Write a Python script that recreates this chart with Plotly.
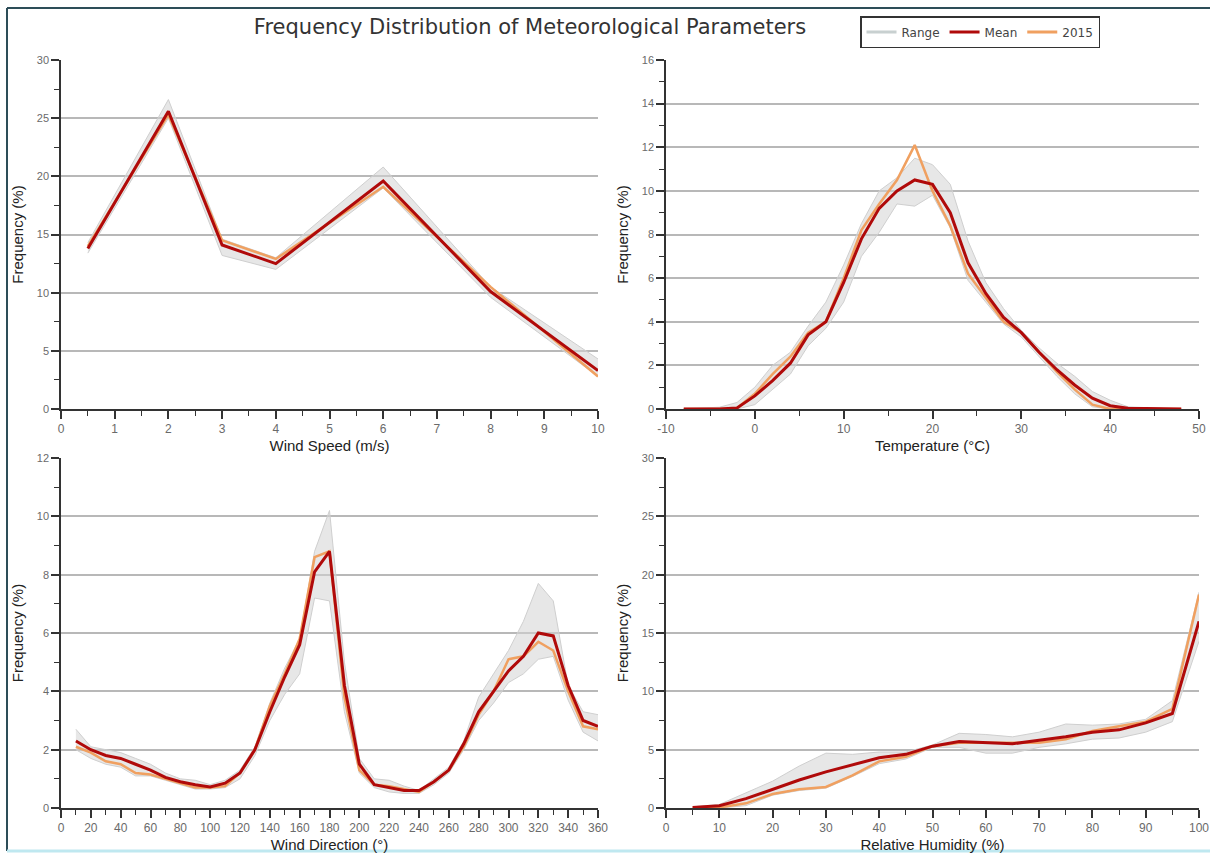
import plotly.graph_objects as go

# ---------------- data ----------------
ws_x = [0.5, 2, 3, 4, 6, 8, 10]
ws_mean = [13.8, 25.6, 14.1, 12.5, 19.6, 10.1, 3.3]
ws_2015 = [14.0, 25.3, 14.5, 12.9, 19.1, 10.5, 2.8]
ws_upper = [14.3, 26.6, 14.6, 13.0, 20.8, 10.5, 4.3]
ws_lower = [13.4, 25.0, 13.2, 12.0, 19.0, 9.6, 2.8]

t_x = [-8, -6, -4, -2, 0, 2, 4, 6, 8, 10, 12, 14, 16, 18, 20, 22, 24, 26, 28, 30,
       32, 34, 36, 38, 40, 42, 44, 46, 48]
t_mean = [0, 0, 0, 0.05, 0.6, 1.3, 2.1, 3.4, 4.0, 5.8, 7.8, 9.2, 10.0, 10.5, 10.3, 9.0,
          6.7, 5.3, 4.2, 3.5, 2.6, 1.8, 1.1, 0.5, 0.15, 0.03, 0.01, 0, 0]
t_2015 = [0, 0, 0, 0.05, 0.7, 1.6, 2.4, 3.5, 4.0, 6.0, 8.2, 9.4, 10.5, 12.1, 10.0, 8.4,
          6.2, 5.1, 4.0, 3.5, 2.6, 1.7, 0.9, 0.2, 0.0, 0, 0, 0, 0]
t_upper = [0.02, 0.05, 0.08, 0.3, 1.0, 2.0, 2.6, 3.8, 4.9, 6.6, 8.5, 10.0, 10.6, 11.5,
           11.2, 10.3, 7.7, 5.8, 4.6, 3.6, 2.8, 2.1, 1.5, 0.8, 0.4, 0.1, 0.05, 0.03, 0.01]
t_lower = [0, 0, 0, 0, 0.2, 0.9, 1.6, 2.9, 3.7, 4.9, 7.0, 8.1, 9.4, 9.3, 9.8, 8.3,
           5.9, 4.9, 3.9, 3.3, 2.4, 1.5, 0.7, 0.1, 0, 0, 0, 0, 0]
t_tickvals = [-10, 0, 10, 20, 30, 40, 50]
t_ticktext = ["-10", "0", "10", "20", "30", "40", "50"]

wd_x = [10, 20, 30, 40, 50, 60, 70, 80, 90, 100, 110, 120, 130, 140, 150, 160, 170, 180,
        190, 200, 210, 220, 230, 240, 250, 260, 270, 280, 290, 300, 310, 320, 330, 340,
        350, 360]
wd_mean = [2.3, 2.0, 1.8, 1.7, 1.5, 1.3, 1.05, 0.9, 0.8, 0.72, 0.85, 1.2, 2.0, 3.3, 4.5,
           5.6, 8.1, 8.8, 4.2, 1.5, 0.8, 0.7, 0.6, 0.6, 0.9, 1.3, 2.2, 3.3, 4.0, 4.7,
           5.2, 6.0, 5.9, 4.2, 3.0, 2.8]
wd_2015 = [2.1, 1.9, 1.6, 1.5, 1.2, 1.15, 1.0, 0.85, 0.7, 0.7, 0.75, 1.2, 2.0, 3.5, 4.6,
           5.8, 8.6, 8.8, 3.8, 1.3, 0.8, 0.75, 0.65, 0.55, 0.9, 1.3, 2.1, 3.2, 4.0, 5.1,
           5.2, 5.7, 5.4, 4.0, 2.8, 2.7]
wd_upper = [2.7, 2.1, 2.0, 1.9, 1.7, 1.5, 1.2, 1.0, 0.95, 0.8, 0.95, 1.3, 2.1, 3.6, 4.8,
            5.8, 8.8, 10.2, 5.0, 1.7, 1.0, 0.95, 0.75, 0.6, 1.0, 1.4, 2.3, 3.8, 4.6, 5.4,
            6.4, 7.7, 7.1, 4.2, 3.3, 3.2]
wd_lower = [2.0, 1.7, 1.5, 1.4, 1.1, 1.1, 0.95, 0.8, 0.65, 0.65, 0.7, 1.0, 1.8, 3.0, 3.9,
            4.6, 7.2, 7.1, 3.3, 1.2, 0.7, 0.55, 0.5, 0.5, 0.8, 1.2, 2.0, 3.0, 3.6, 4.3,
            4.6, 5.1, 5.2, 3.7, 2.6, 2.3]

rh_x = [5, 10, 15, 20, 25, 30, 35, 40, 45, 50, 55, 60, 65, 70, 75, 80, 85, 90, 95, 100]
rh_mean = [0.05, 0.2, 0.8, 1.6, 2.4, 3.1, 3.7, 4.3, 4.6, 5.3, 5.7, 5.6, 5.5, 5.8, 6.1,
           6.5, 6.7, 7.3, 8.1, 16.0]
rh_2015 = [0, 0.05, 0.4, 1.2, 1.6, 1.8, 2.8, 4.0, 4.4, 5.3, 5.6, 5.6, 5.6, 5.6, 5.9,
           6.6, 7.0, 7.4, 8.5, 18.3]
rh_upper = [0.1, 0.3, 1.3, 2.3, 3.6, 4.7, 4.6, 4.8, 4.8, 5.4, 6.4, 6.3, 6.1, 6.5, 7.2,
            7.1, 7.2, 7.6, 9.2, 18.5]
rh_lower = [0, 0, 0.2, 1.1, 1.5, 1.7, 2.7, 3.8, 4.2, 5.2, 5.2, 4.7, 4.7, 5.2, 5.5,
            5.9, 6.0, 6.5, 7.4, 14.3]

title_text = "Frequency Distribution of Meteorological Parameters"
ylabel = "Frequency (%)"
panels = [
    dict(x=ws_x, mean=ws_mean, y15=ws_2015, up=ws_upper, lo=ws_lower,
         xt="Wind Speed (m/s)", xr=[0, 10], xd=1, xm=0.5, yr=[0, 30], yd=5, ym=2.5),
    dict(x=t_x, mean=t_mean, y15=t_2015, up=t_upper, lo=t_lower,
         xt="Temperature (°C)", xr=[-10, 50], xd=10, xm=5, yr=[0, 16], yd=2, ym=1,
         tv=t_tickvals, tt=t_ticktext),
    dict(x=wd_x, mean=wd_mean, y15=wd_2015, up=wd_upper, lo=wd_lower,
         xt="Wind Direction (°)", xr=[0, 360], xd=20, xm=10, yr=[0, 12], yd=2, ym=1),
    dict(x=rh_x, mean=rh_mean, y15=rh_2015, up=rh_upper, lo=rh_lower,
         xt="Relative Humidity (%)", xr=[0, 100], xd=10, xm=5, yr=[0, 30], yd=5, ym=2.5),
]

W, H = 1210, 856
xdoms = [[61 / W, 598 / W], [666 / W, 1199 / W]]
ydoms = [[1 - 409 / H, 1 - 60 / H], [1 - 808 / H, 1 - 458 / H]]

RANGE_EDGE = "#cfcfcf"
RANGE_FILL = "rgba(212,212,212,0.55)"
MEAN_C = "#b00a0a"
Y15_C = "#f0a060"
AX_C = "#333333"
FONT = "Liberation Sans, Arial, sans-serif"

fig = go.Figure()
layout = {}
for i, p in enumerate(panels):
    r, c = divmod(i, 2)
    n = i + 1
    xa = "x" if n == 1 else f"x{n}"
    ya = "y" if n == 1 else f"y{n}"
    first = i == 0
    if first:
        fig.add_trace(go.Scatter(x=[None], y=[None], xaxis=xa, yaxis=ya, mode="lines",
                                 line=dict(color="#c8d0d0", width=3), name="Range",
                                 showlegend=True))
    fig.add_trace(go.Scatter(x=p["x"], y=p["lo"], xaxis=xa, yaxis=ya, mode="lines",
                             line=dict(color=RANGE_EDGE, width=1), showlegend=False,
                             hoverinfo="skip"))
    fig.add_trace(go.Scatter(x=p["x"], y=p["up"], xaxis=xa, yaxis=ya, mode="lines",
                             fill="tonexty", fillcolor=RANGE_FILL,
                             line=dict(color=RANGE_EDGE, width=1), name="Range",
                             showlegend=False))
    fig.add_trace(go.Scatter(x=p["x"], y=p["y15"], xaxis=xa, yaxis=ya, mode="lines",
                             line=dict(color=Y15_C, width=2.5), name="2015",
                             showlegend=False))
    fig.add_trace(go.Scatter(x=p["x"], y=p["mean"], xaxis=xa, yaxis=ya, mode="lines",
                             line=dict(color=MEAN_C, width=3), name="Mean",
                             showlegend=first))
    if first:
        fig.add_trace(go.Scatter(x=[None], y=[None], xaxis=xa, yaxis=ya, mode="lines",
                                 line=dict(color=Y15_C, width=3), name="2015",
                                 showlegend=True))
    xkey = "xaxis" if n == 1 else f"xaxis{n}"
    ykey = "yaxis" if n == 1 else f"yaxis{n}"
    xax = dict(
        domain=xdoms[c], anchor=ya, range=p["xr"], dtick=p["xd"], tick0=0,
        showline=True, linecolor=AX_C, linewidth=1.5, ticks="outside", ticklen=8,
        tickwidth=1.5, tickcolor=AX_C, showgrid=False, zeroline=False, automargin=False,
        minor=dict(ticks="outside", dtick=p["xm"], ticklen=5, tickwidth=1.2,
                   tickcolor=AX_C, showgrid=False),
        tickfont=dict(size=12, color="#6a6a6a", family=FONT),
        title=dict(text=p["xt"], font=dict(size=15, color="#222222", family=FONT),
                   standoff=5),
    )
    if "tv" in p:
        xax.update(tickmode="array", tickvals=p["tv"], ticktext=p["tt"])
    layout[xkey] = xax
    layout[ykey] = dict(
        domain=ydoms[r], anchor=xa, range=p["yr"], dtick=p["yd"], tick0=0,
        showline=True, linecolor=AX_C, linewidth=1.5, ticks="outside", ticklen=8,
        tickwidth=1.5, tickcolor=AX_C, showgrid=True, gridcolor="#b8b8b8",
        gridwidth=1.5, zeroline=False, automargin=False,
        minor=dict(ticks="outside", dtick=p["ym"], ticklen=5, tickwidth=1.2,
                   tickcolor=AX_C, showgrid=False),
        tickfont=dict(size=11, color="#6a6a6a", family=FONT),
        title=dict(text=ylabel, font=dict(size=15, color="#222222", family=FONT),
                   standoff=10),
    )

fig.update_layout(
    width=W, height=H, margin=dict(l=0, r=0, t=0, b=0, autoexpand=False),
    paper_bgcolor="white", plot_bgcolor="white",
    title=dict(text=title_text, x=530 / W, xanchor="center", y=1 - 27 / H,
               yanchor="middle",
               font=dict(size=21, color="#333333", family="DejaVu Sans, sans-serif")),
    legend=dict(orientation="h", x=860 / W, xanchor="left", y=1 - 16 / H, yanchor="top",
                bordercolor="#333333", borderwidth=1.5, bgcolor="white",
                font=dict(size=12, color="#444444", family="DejaVu Sans, sans-serif"),
                itemwidth=30, tracegroupgap=0, traceorder="normal"),
    showlegend=True,
    **layout,
)

# frame around the figure
fig.add_shape(type="line", xref="paper", yref="paper", x0=7 / W, x1=1, y0=1 - 8 / H,
              y1=1 - 8 / H, line=dict(color="#2d4d58", width=2))
fig.add_shape(type="line", xref="paper", yref="paper", x0=7 / W, x1=7 / W, y0=1 - 8 / H,
              y1=1 - 851 / H, line=dict(color="#2d4d58", width=2))
fig.add_shape(type="line", xref="paper", yref="paper", x0=7 / W, x1=1, y0=1 - 851 / H,
              y1=1 - 851 / H, line=dict(color="#bfe8f0", width=3))

fig.write_html("out.html")
